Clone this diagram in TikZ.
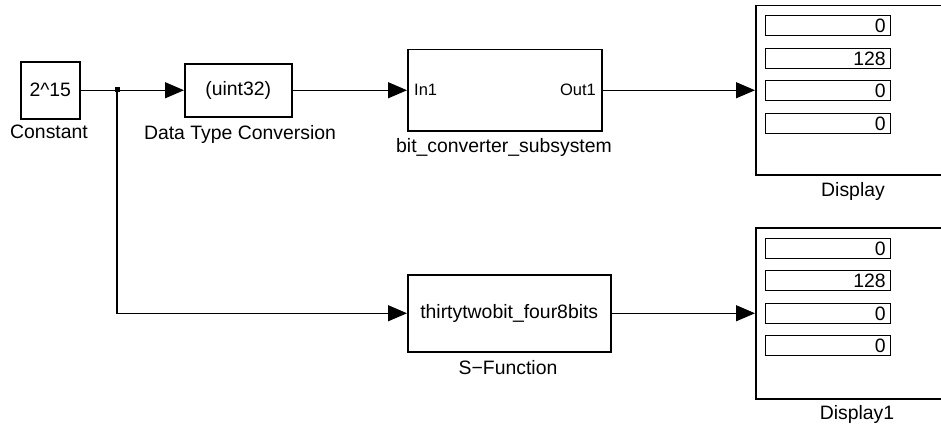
\documentclass[tikz,border=0pt]{standalone}
\usepackage{fontspec}
\setmainfont{Liberation Sans}
\usetikzlibrary{arrows.meta}
\begin{document}
\begin{tikzpicture}[x=1pt,y=-1pt,
  font=\fontsize{19.4}{22}\selectfont,
  blk/.style={draw, line width=1.5pt, inner sep=0pt, anchor=north west},
  sig/.style={line width=1.3pt, -{Triangle[length=19pt,width=16pt]}},
  wire/.style={line width=1.3pt},
  port/.style={font=\fontsize{16.5}{19}\selectfont, inner sep=0pt},
  lbl/.style={inner sep=0pt},
  fld/.style={draw, line width=1.3pt, minimum width=125pt, minimum height=20pt, inner xsep=5pt, inner ysep=0pt, anchor=north west, text width=115pt, align=right}
]
\useasboundingbox (0,0) rectangle (941,428);
\clip (0,0) rectangle (941,428);

% blocks
\node[blk, minimum width=59pt, minimum height=57pt] (const) at (20,61) {2\symbol{94}15};
\node[lbl] (constlbl) at (49,132) {Constant};

\node[blk, minimum width=107pt, minimum height=53pt] (dtc) at (184,63) {(uint32)};
\node[lbl] (dtclbl) at (240,134) {Data Type Conversion};

\node[blk, minimum width=194pt, minimum height=81pt] (sub) at (407,49) {};
\node[port, anchor=west] (in1) at (414,90) {In1};
\node[port, anchor=east] (out1) at (596,90) {Out1};
\node[lbl] (sublbl) at (504,147) {bit\_converter\_subsystem};

\node[blk, minimum width=203pt, minimum height=77pt] (sfun) at (407,274) {thirtytwobit\_four8bits};
\node[lbl] (sfunlbl) at (508,368) {S−Function};

\node[blk, minimum width=200pt, minimum height=169pt] (disp) at (755,5) {};
\node[fld] (d1) at (765,15) {0};
\node[fld] (d2) at (765,48) {128};
\node[fld] (d3) at (765,80) {0};
\node[fld] (d4) at (765,113) {0};
\node[lbl] (displbl) at (853,191) {Display};

\node[blk, minimum width=200pt, minimum height=171pt] (disp1) at (755,227) {};
\node[fld] (e1) at (765,238) {0};
\node[fld] (e2) at (765,270) {128};
\node[fld] (e3) at (765,303) {0};
\node[fld] (e4) at (765,335) {0};
\node[lbl] (disp1lbl) at (857,414) {Display1};

% junction
\node[fill, minimum size=5pt, inner sep=0pt] (junc) at (117,89.5) {};

% connectors
\draw[sig] (const.east) -- (dtc.west);
\draw[sig] (junc.center) |- (sfun.west);
\draw[sig] (dtc.east) -- (sub.west);
\draw[sig] (sub.east) -- (disp.west);
\draw[sig] (sfun.east) -- (disp1.west);
\end{tikzpicture}
\end{document}
